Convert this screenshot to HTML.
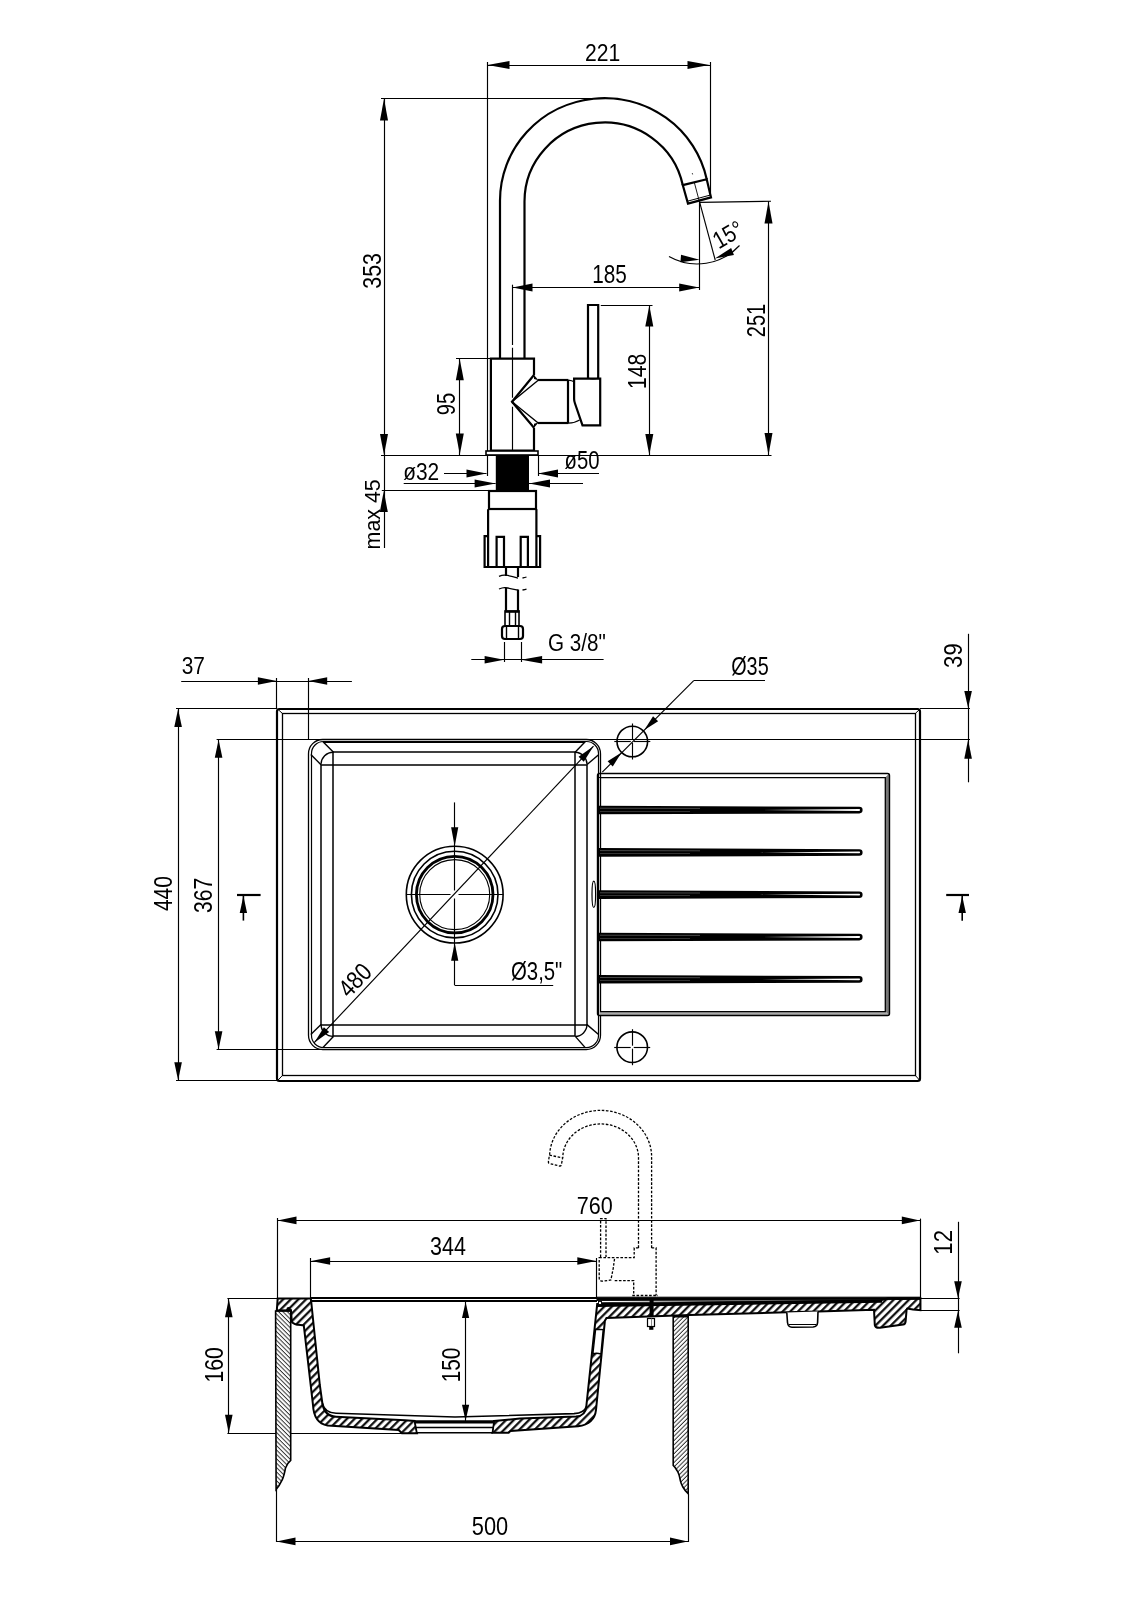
<!DOCTYPE html>
<html><head><meta charset="utf-8"><style>
html,body{margin:0;padding:0;background:#fff;}
svg{display:block;will-change:transform;}
text{font-family:"Liberation Sans",sans-serif;fill:#000;}
</style></head><body>
<svg width="1131" height="1600" viewBox="0 0 1131 1600">
<rect width="1131" height="1600" fill="#fff"/>
<defs>
<pattern id="hBold" patternUnits="userSpaceOnUse" width="5.4" height="10" patternTransform="rotate(45)">
<rect x="0" y="0" width="5.4" height="10" fill="#fff"/><line x1="1.2" y1="-1" x2="1.2" y2="11" stroke="#000" stroke-width="2.1"/></pattern>
<pattern id="hThinB" patternUnits="userSpaceOnUse" width="3.1" height="10" patternTransform="rotate(-45)">
<rect x="0" y="0" width="3.1" height="10" fill="#fff"/><line x1="1" y1="-1" x2="1" y2="11" stroke="#000" stroke-width="0.8"/></pattern>
<pattern id="hThinF" patternUnits="userSpaceOnUse" width="3.1" height="10" patternTransform="rotate(45)">
<rect x="0" y="0" width="3.1" height="10" fill="#fff"/><line x1="1" y1="-1" x2="1" y2="11" stroke="#000" stroke-width="0.8"/></pattern>
</defs>
<g stroke="#000" fill="none" stroke-linecap="butt" stroke-linejoin="miter">
<g id="faucet">
<line x1="487.5" y1="62" x2="487.5" y2="476" stroke-width="1.15" />
<line x1="710.5" y1="62" x2="710.5" y2="193" stroke-width="1.15" />
<line x1="487" y1="65.5" x2="710" y2="65.5" stroke-width="1.15" />
<polygon points="487.5,65 509.5,61 509.5,69" fill="#000" stroke="none" stroke-width="0" />
<polygon points="709.5,65 687.5,69 687.5,61" fill="#000" stroke="none" stroke-width="0" />
<text transform="translate(584.95,61) scale(0.86,1)" font-size="24.57" stroke="#fff" stroke-width="0">221</text>
<line x1="381" y1="98.5" x2="605" y2="98.5" stroke-width="1.15" />
<line x1="384.5" y1="98" x2="384.5" y2="548" stroke-width="1.15" />
<polygon points="384,98.5 388,120.5 380,120.5" fill="#000" stroke="none" stroke-width="0" />
<polygon points="384,455 380,434 388,434" fill="#000" stroke="none" stroke-width="0" />
<text transform="translate(380.9,288.66) rotate(-90) scale(0.84,1)" font-size="25.43" stroke="#fff" stroke-width="0">353</text>
<line x1="381" y1="455.5" x2="771.5" y2="455.5" stroke-width="1.15" />
<path d="M500,359 L500,200.5 A104.5,102.3 0 0 1 706.72,179.23" stroke-width="2.2" fill="none" />
<path d="M524.5,359 L524.5,201.5 A80,79 0 0 1 682.75,185.07" stroke-width="2.2" fill="none" />
<path d="M682.75,185.07 L688,203.6 L711,197.4 L706.72,179.23 Z" stroke-width="2.2" fill="none" />
<line x1="687.5" y1="201.2" x2="710.5" y2="195" stroke-width="1" />
<line x1="694.3" y1="182.4" x2="699.6" y2="202.4" stroke-width="0.9" />
<line x1="692.3" y1="173.2" x2="692.6" y2="174.4" stroke-width="0.9" />
<line x1="699.7" y1="202.4" x2="771" y2="201.2" stroke-width="1.15" />
<line x1="699.5" y1="201.5" x2="699.5" y2="290" stroke-width="1.15" />
<line x1="699.7" y1="202.4" x2="715.2" y2="260" stroke-width="1.15" />
<path d="M669,256.5 A57.5,57.5 0 0 0 739.5,245.5" stroke-width="1.15" fill="none" />
<polygon points="699.7,259.8 680.48,262.26 681.01,254.68" fill="#000" stroke="none" stroke-width="0" />
<polygon points="714.9,258.5 731.15,247.95 733.96,255.01" fill="#000" stroke="none" stroke-width="0" />
<text transform="translate(728,234.4) rotate(-30) scale(0.84,1) translate(-18.52,8.5)" font-size="24.29" stroke="#fff" stroke-width="0">15°</text>
<line x1="512" y1="287.5" x2="699.7" y2="287.5" stroke-width="1.15" />
<polygon points="512.5,287.5 532.5,283.5 532.5,291.5" fill="#000" stroke="none" stroke-width="0" />
<polygon points="699.2,287.5 679.2,291.5 679.2,283.5" fill="#000" stroke="none" stroke-width="0" />
<text transform="translate(592.19,282.5) scale(0.83,1)" font-size="25" stroke="#fff" stroke-width="0">185</text>
<line x1="512.5" y1="284.7" x2="512.5" y2="345" stroke-width="1.15" />
<line x1="512.5" y1="347.7" x2="512.5" y2="455" stroke-width="1.15" stroke-dasharray="50,3,3,3"/>
<line x1="768.5" y1="201.2" x2="768.5" y2="455.5" stroke-width="1.15" />
<polygon points="768.5,201.5 772.5,223.5 764.5,223.5" fill="#000" stroke="none" stroke-width="0" />
<polygon points="768.5,455 764.5,433 772.5,433" fill="#000" stroke="none" stroke-width="0" />
<text transform="translate(765.2,337.2) rotate(-90) scale(0.8,1)" font-size="25" stroke="#fff" stroke-width="0">251</text>
<line x1="600.8" y1="305.5" x2="652.5" y2="305.5" stroke-width="1.15" />
<line x1="649.5" y1="305" x2="649.5" y2="455.5" stroke-width="1.15" />
<polygon points="649.3,305.5 653.3,326.5 645.3,326.5" fill="#000" stroke="none" stroke-width="0" />
<polygon points="649.3,455 645.3,434 653.3,434" fill="#000" stroke="none" stroke-width="0" />
<text transform="translate(646.3,388.99) rotate(-90) scale(0.81,1)" font-size="26.14" stroke="#fff" stroke-width="0">148</text>
<line x1="456" y1="358.5" x2="490.9" y2="358.5" stroke-width="1.15" />
<line x1="459.5" y1="358.8" x2="459.5" y2="455" stroke-width="1.15" />
<polygon points="459.8,359.3 463.8,380.3 455.8,380.3" fill="#000" stroke="none" stroke-width="0" />
<polygon points="459.8,454.5 455.8,433.5 463.8,433.5" fill="#000" stroke="none" stroke-width="0" />
<text transform="translate(455.4,415.31) rotate(-90) scale(0.79,1)" font-size="25.57" stroke="#fff" stroke-width="0">95</text>
<path d="M534,375 L534,358.6 L490.9,358.6 L490.9,450.6 L534,450.6 L534,427.8" stroke-width="2.2" fill="none" />
<rect x="486" y="451" width="52" height="4" rx="0" stroke-width="1.6" fill="#fff" />
<path d="M534,375 L512,401.7 L534,427.8" stroke-width="2.2" fill="none" />
<path d="M538.2,380.3 L512,401.7 L538.2,423" stroke-width="1.4" fill="none" />
<polygon points="534,375 538.5,380.2 534,379" fill="#000" stroke="none" stroke-width="0" />
<polygon points="534,427.8 538.5,422.6 534,423.8" fill="#000" stroke="none" stroke-width="0" />
<line x1="538" y1="380" x2="568.4" y2="380" stroke-width="2.2" />
<line x1="538" y1="423" x2="568.4" y2="423" stroke-width="2.2" />
<line x1="568" y1="380" x2="568" y2="423.4" stroke-width="2.2" />
<path d="M568.4,380.2 Q572,380.6 574,381.8" stroke-width="1.2" fill="none" />
<path d="M568.4,423.2 Q575,423 579.6,420" stroke-width="1.2" fill="none" />
<path d="M574.1,378.6 L600.2,378.6 L600.2,425.4 L582.5,425.4 L575,403.5 Q574.1,401 574.1,399 Z" stroke-width="2.2" fill="none" />
<path d="M588,378.6 L588,305 L598.2,305 L598.2,378.6" stroke-width="2.2" fill="none" />
<path d="M588,378 Q593,380 598.2,378" stroke-width="1.2" fill="none" />
<rect x="495.8" y="455.3" width="33.2" height="35.3" rx="0" stroke-width="0" fill="#000" />
<line x1="538.5" y1="455" x2="538.5" y2="476" stroke-width="1.15" />
<line x1="444" y1="473.5" x2="486.5" y2="473.5" stroke-width="1.15" />
<line x1="538" y1="473.5" x2="599" y2="473.5" stroke-width="1.15" />
<polygon points="486.5,473.5 466.5,477.5 466.5,469.5" fill="#000" stroke="none" stroke-width="0" />
<polygon points="538,473.5 558,469.5 558,477.5" fill="#000" stroke="none" stroke-width="0" />
<line x1="403.7" y1="483.5" x2="495.6" y2="483.5" stroke-width="1.15" />
<line x1="529" y1="483.5" x2="583" y2="483.5" stroke-width="1.15" />
<polygon points="495.6,483.4 474.6,487.4 474.6,479.4" fill="#000" stroke="none" stroke-width="0" />
<polygon points="529,483.4 550,479.4 550,487.4" fill="#000" stroke="none" stroke-width="0" />
<text transform="translate(403.18,480.2) scale(0.85,1)" font-size="24.57" stroke="#fff" stroke-width="0">ø32</text>
<text transform="translate(564.49,469) scale(0.79,1)" font-size="25.71" stroke="#fff" stroke-width="0">ø50</text>
<line x1="381.8" y1="490.5" x2="488" y2="490.5" stroke-width="1.15" />
<polygon points="383.8,491 387.8,512 379.8,512" fill="#000" stroke="none" stroke-width="0" />
<text transform="translate(379.5,549.39) rotate(-90) scale(0.99,1)" font-size="21.59" stroke="#fff" stroke-width="0">max 45</text>
<rect x="489" y="491" width="47" height="18" rx="0" stroke-width="2.2" fill="none" />
<path d="M488.1,509.2 L488.1,567 M536.4,509.2 L536.4,567" stroke-width="2.2" fill="none" />
<path d="M488.1,536.2 L484.6,536.2 L484.6,567 L540.1,567 L540.1,536.2 L536.4,536.2" stroke-width="2.2" fill="none" />
<path d="M496.6,567 L496.6,536.8 L504,536.8 L504,567" stroke-width="2.2" fill="none" />
<path d="M520.7,567 L520.7,536.8 L527.9,536.8 L527.9,567" stroke-width="2.2" fill="none" />
<line x1="506" y1="567" x2="506" y2="576" stroke-width="2.2" />
<line x1="518" y1="567" x2="518" y2="577" stroke-width="2.2" />
<path d="M499,576.3 Q503,574.6 505.8,575.2 Q511,576 518,578 M522.5,578 Q525,577.5 526.5,577" stroke-width="1.3" fill="none" />
<path d="M499,589 Q503,587.2 505.5,587.6 Q511,588.5 518,590.2 M522.5,590 Q525,589.6 526.5,589.2" stroke-width="1.3" fill="none" />
<line x1="506" y1="588" x2="506" y2="611" stroke-width="2.2" />
<line x1="518" y1="589.5" x2="518" y2="611" stroke-width="2.2" />
<rect x="505" y="611" width="14" height="15" rx="0" stroke-width="1.6" fill="none" />
<line x1="505" y1="611.6" x2="519.6" y2="611.6" stroke-width="2.4" />
<line x1="509.5" y1="612" x2="509.5" y2="626" stroke-width="1.4" />
<line x1="515.5" y1="612" x2="515.5" y2="626" stroke-width="1.4" />
<rect x="502" y="626" width="21" height="13" rx="3" stroke-width="2.2" fill="none" />
<line x1="506.5" y1="627" x2="506.5" y2="638.8" stroke-width="1.4" />
<line x1="518.5" y1="627" x2="518.5" y2="638.8" stroke-width="1.4" />
<line x1="504.5" y1="642" x2="504.5" y2="662" stroke-width="1.15" />
<line x1="521.5" y1="642" x2="521.5" y2="662" stroke-width="1.15" />
<line x1="471.3" y1="659.5" x2="603.6" y2="659.5" stroke-width="1.15" />
<polygon points="504.1,659.7 484.6,663.5 484.6,655.9" fill="#000" stroke="none" stroke-width="0" />
<polygon points="521.1,659.7 542.1,655.9 542.1,663.5" fill="#000" stroke="none" stroke-width="0" />
<text transform="translate(548.07,650.5) scale(0.88,1)" font-size="23.45" stroke="#fff" stroke-width="0">G 3/8&quot;</text>
</g>
<g id="top">
<line x1="181.2" y1="681.5" x2="351.9" y2="681.5" stroke-width="1.15" />
<line x1="276.5" y1="678" x2="276.5" y2="709" stroke-width="1.15" />
<line x1="308.5" y1="678" x2="308.5" y2="740" stroke-width="1.15" />
<polygon points="276.9,681 257.9,684.8 257.9,677.2" fill="#000" stroke="none" stroke-width="0" />
<polygon points="308.2,681 327.2,677.2 327.2,684.8" fill="#000" stroke="none" stroke-width="0" />
<text transform="translate(181.76,674.2) scale(0.85,1)" font-size="24.57" stroke="#fff" stroke-width="0">37</text>
<line x1="176" y1="708.5" x2="277" y2="708.5" stroke-width="1.15" />
<line x1="176" y1="1080.5" x2="277" y2="1080.5" stroke-width="1.15" />
<line x1="178.5" y1="708.5" x2="178.5" y2="1080.8" stroke-width="1.15" />
<polygon points="178.1,709 181.9,727 174.3,727" fill="#000" stroke="none" stroke-width="0" />
<polygon points="178.1,1080.3 174.3,1062.3 181.9,1062.3" fill="#000" stroke="none" stroke-width="0" />
<text transform="translate(171.7,911.12) rotate(-90) scale(0.84,1)" font-size="25" stroke="#fff" stroke-width="0">440</text>
<line x1="216.6" y1="739.5" x2="970" y2="739.5" stroke-width="1.15" />
<line x1="216.6" y1="1049.5" x2="322" y2="1049.5" stroke-width="1.15" />
<line x1="218.5" y1="739.2" x2="218.5" y2="1049.8" stroke-width="1.15" />
<polygon points="218.6,739.7 222.4,757.7 214.8,757.7" fill="#000" stroke="none" stroke-width="0" />
<polygon points="218.6,1049.3 214.8,1031.3 222.4,1031.3" fill="#000" stroke="none" stroke-width="0" />
<text transform="translate(212.3,913.04) rotate(-90) scale(0.82,1)" font-size="25.71" stroke="#fff" stroke-width="0">367</text>
<line x1="920" y1="708.5" x2="970" y2="708.5" stroke-width="1.15" />
<line x1="968.5" y1="633.8" x2="968.5" y2="782.3" stroke-width="1.15" />
<polygon points="968.1,708 964.3,691 971.9,691" fill="#000" stroke="none" stroke-width="0" />
<polygon points="968.1,739.7 971.9,758.7 964.3,758.7" fill="#000" stroke="none" stroke-width="0" />
<text transform="translate(961.7,667.88) rotate(-90) scale(0.86,1)" font-size="25.71" stroke="#fff" stroke-width="0">39</text>
<rect x="277" y="709" width="643" height="372" rx="2.5" stroke-width="2.2" fill="none" />
<rect x="282.5" y="713.5" width="633" height="362" rx="0" stroke-width="1.3" fill="none" />
<line x1="277.6" y1="709" x2="282" y2="713.1" stroke-width="1" />
<line x1="920" y1="709" x2="915.7" y2="713.1" stroke-width="1" />
<line x1="277.6" y1="1080.6" x2="282" y2="1075.9" stroke-width="1" />
<line x1="920" y1="1080.6" x2="915.7" y2="1075.9" stroke-width="1" />
<rect x="308.5" y="739.5" width="292" height="310" rx="14.2" stroke-width="1.3" fill="none" />
<rect x="311.5" y="741.5" width="287" height="306" rx="12" stroke-width="1.2" fill="none" />
<line x1="324" y1="742" x2="585" y2="742" stroke-width="2" />
<rect x="333" y="752" width="242" height="284" rx="0" stroke-width="1.5" fill="none" />
<rect x="321" y="765" width="266" height="260" rx="0" stroke-width="1.5" fill="none" />
<path d="M321,764.6 A12.3,12.3 0 0 1 333.4,752.3" stroke-width="1.4" fill="none" />
<line x1="323" y1="741.7" x2="333.5" y2="752.3" stroke-width="1.4" />
<line x1="310.8" y1="754.6" x2="321" y2="764.7" stroke-width="1.4" />
<path d="M575.2,752.3 A12.3,12.3 0 0 1 587,764.6" stroke-width="1.4" fill="none" />
<line x1="585.4" y1="741.5" x2="575.1" y2="752.3" stroke-width="1.4" />
<line x1="598.6" y1="754.7" x2="587.1" y2="764.5" stroke-width="1.4" />
<path d="M333.4,1036.4 A12.3,12.3 0 0 1 321,1024.6" stroke-width="1.4" fill="none" />
<line x1="310.8" y1="1034.5" x2="321" y2="1024.6" stroke-width="1.4" />
<line x1="323" y1="1047.6" x2="333.4" y2="1036.5" stroke-width="1.4" />
<path d="M587,1024.6 A12,12 0 0 1 575.2,1036.4" stroke-width="1.4" fill="none" />
<line x1="598.3" y1="1034.2" x2="587" y2="1024.6" stroke-width="1.4" />
<line x1="585.2" y1="1047.6" x2="575.3" y2="1036.4" stroke-width="1.4" />
<circle cx="454.7" cy="894.6" r="48.4" stroke-width="1.6" fill="none" />
<circle cx="454.7" cy="894.6" r="43.3" stroke-width="1.6" fill="none" />
<circle cx="454.7" cy="894.6" r="38.3" stroke-width="2.8" fill="none" />
<circle cx="454.7" cy="894.6" r="35" stroke-width="1.1" fill="none" />
<line x1="406.7" y1="894.5" x2="450.5" y2="894.5" stroke-width="1.15" />
<line x1="458.5" y1="894.5" x2="503.2" y2="894.5" stroke-width="1.15" />
<line x1="454.5" y1="802.4" x2="454.5" y2="890.5" stroke-width="1.15" />
<line x1="454.5" y1="898.5" x2="454.5" y2="985.2" stroke-width="1.15" />
<polygon points="454.7,846.3 451.1,827.3 458.3,827.3" fill="#000" stroke="none" stroke-width="0" />
<polygon points="454.7,942.8 458.3,960.8 451.1,960.8" fill="#000" stroke="none" stroke-width="0" />
<line x1="454.7" y1="985.5" x2="553.2" y2="985.5" stroke-width="1.15" />
<text transform="translate(510.99,980.3) scale(0.81,1)" font-size="25.14" stroke="#fff" stroke-width="0">Ø3,5&quot;</text>
<line x1="314.2" y1="1042.7" x2="593.5" y2="746.2" stroke-width="1.15" />
<polygon points="593.5,746.2 583.78,761.77 578.54,756.83" fill="#000" stroke="none" stroke-width="0" />
<polygon points="314.2,1042.7 323.92,1027.13 329.16,1032.07" fill="#000" stroke="none" stroke-width="0" />
<text transform="translate(354.6,980.1) rotate(-46.7) scale(0.85,1) translate(-20.62,8.75)" font-size="25" stroke="#fff" stroke-width="0">480</text>
<circle cx="632.3" cy="741.5" r="15.3" stroke-width="1.6" fill="none" />
<line x1="614.3" y1="741.5" x2="630.8" y2="741.5" stroke-width="1.15" />
<line x1="633.8" y1="741.5" x2="650.3" y2="741.5" stroke-width="1.15" />
<line x1="632.5" y1="723.5" x2="632.5" y2="740" stroke-width="1.15" />
<line x1="632.5" y1="743" x2="632.5" y2="759.5" stroke-width="1.15" />
<circle cx="632.2" cy="1047.2" r="15.3" stroke-width="1.6" fill="none" />
<line x1="614.2" y1="1047.5" x2="630.7" y2="1047.5" stroke-width="1.15" />
<line x1="633.7" y1="1047.5" x2="650.2" y2="1047.5" stroke-width="1.15" />
<line x1="632.5" y1="1029.2" x2="632.5" y2="1045.7" stroke-width="1.15" />
<line x1="632.5" y1="1048.7" x2="632.5" y2="1065.2" stroke-width="1.15" />
<line x1="693.7" y1="680.5" x2="765" y2="680.5" stroke-width="1.15" />
<line x1="693.7" y1="680.6" x2="602.3" y2="772.2" stroke-width="1.15" />
<polygon points="644.3,730.1 653.07,716.24 658.16,721.33" fill="#000" stroke="none" stroke-width="0" />
<polygon points="621.5,752.6 612.73,766.46 607.64,761.37" fill="#000" stroke="none" stroke-width="0" />
<text transform="translate(731.2,675.3) scale(0.76,1)" font-size="26.11" stroke="#fff" stroke-width="0">Ø35</text>
<polygon points="885.3,777.6 889.3,773.2 889.3,1015.4 885.3,1011.6" fill="#777" stroke="none" stroke-width="0" />
<polygon points="600,1015.4 889,1015.4 885.3,1011.6 600,1011.6" fill="#aaa" stroke="none" stroke-width="0" />
<rect x="597.5" y="773.5" width="292" height="242" rx="2" stroke-width="1.4" fill="none" />
<path d="M600,777.6 L885.3,777.6 L885.3,1011.6 L600,1011.6" stroke-width="1.3" fill="none" />
<line x1="597.3" y1="777.5" x2="600" y2="777.5" stroke-width="1" />
<path d="M597.8,805.7 L859.3,806.8 A3.3,3.3 0 0 1 859.3,813.4 L597.8,814.3 Z" stroke-width="0" fill="#000" stroke="none"/>
<path d="M760,810 L859.3,809.1 A0.95,0.95 0 0 1 859.3,810.95 Z" stroke-width="0" fill="#fff" stroke="none"/>
<line x1="600" y1="808.2" x2="700" y2="808.4" stroke-width="0.7" stroke="#666"/>
<line x1="600" y1="811.5" x2="690" y2="811.5" stroke-width="0.6" stroke="#555"/>
<path d="M597.8,848.1 L859.3,849.2 A3.3,3.3 0 0 1 859.3,855.8 L597.8,856.7 Z" stroke-width="0" fill="#000" stroke="none"/>
<path d="M760,852.4 L859.3,851.5 A0.95,0.95 0 0 1 859.3,853.35 Z" stroke-width="0" fill="#fff" stroke="none"/>
<line x1="600" y1="850.6" x2="700" y2="850.8" stroke-width="0.7" stroke="#666"/>
<line x1="600" y1="853.5" x2="690" y2="853.5" stroke-width="0.6" stroke="#555"/>
<path d="M597.8,890.3 L859.3,891.4 A3.3,3.3 0 0 1 859.3,898 L597.8,898.9 Z" stroke-width="0" fill="#000" stroke="none"/>
<path d="M760,894.6 L859.3,893.7 A0.95,0.95 0 0 1 859.3,895.55 Z" stroke-width="0" fill="#fff" stroke="none"/>
<line x1="600" y1="892.8" x2="700" y2="893" stroke-width="0.7" stroke="#666"/>
<line x1="600" y1="895.5" x2="690" y2="895.5" stroke-width="0.6" stroke="#555"/>
<path d="M597.8,932.7 L859.3,933.8 A3.3,3.3 0 0 1 859.3,940.4 L597.8,941.3 Z" stroke-width="0" fill="#000" stroke="none"/>
<path d="M760,937 L859.3,936.1 A0.95,0.95 0 0 1 859.3,937.95 Z" stroke-width="0" fill="#fff" stroke="none"/>
<line x1="600" y1="935.2" x2="700" y2="935.4" stroke-width="0.7" stroke="#666"/>
<line x1="600" y1="938.5" x2="690" y2="938.5" stroke-width="0.6" stroke="#555"/>
<path d="M597.8,975 L859.3,976.1 A3.3,3.3 0 0 1 859.3,982.7 L597.8,983.6 Z" stroke-width="0" fill="#000" stroke="none"/>
<path d="M760,979.3 L859.3,978.4 A0.95,0.95 0 0 1 859.3,980.25 Z" stroke-width="0" fill="#fff" stroke="none"/>
<line x1="600" y1="977.5" x2="700" y2="977.7" stroke-width="0.7" stroke="#666"/>
<line x1="600" y1="980.5" x2="690" y2="980.5" stroke-width="0.6" stroke="#555"/>
<ellipse cx="593.8" cy="894.3" rx="1.8" ry="13.2" stroke-width="1.2" fill="#fff"/>
<line x1="237" y1="895" x2="260.6" y2="895" stroke-width="2.2" />
<line x1="243.4" y1="896" x2="243.4" y2="920.6" stroke-width="1.6" />
<polygon points="243.4,896 247.1,913 239.7,913" fill="#000" stroke="none" stroke-width="0" />
<line x1="946.2" y1="895" x2="969" y2="895" stroke-width="2.2" />
<line x1="962.2" y1="896" x2="962.2" y2="920.7" stroke-width="1.6" />
<polygon points="962.2,896 965.9,913 958.5,913" fill="#000" stroke="none" stroke-width="0" />
</g>
<g id="section">
<path d="M651.6,1247.9 L651.6,1158 A50.6,46 0 0 0 549.6,1155.5" stroke-width="1.3" fill="none" stroke-dasharray="2.6,1.6"/>
<path d="M638.5,1247.9 L638.5,1158 A37.6,33.6 0 0 0 562.8,1157.5" stroke-width="1.3" fill="none" stroke-dasharray="2.6,1.6"/>
<path d="M549.4,1155.2 L562.7,1157.8 L561.3,1165 Q560.8,1166.2 559.5,1166 L549.6,1163.6 Q548.2,1163.2 548.4,1161.8 Z" stroke-width="1.3" fill="none" stroke-dasharray="2.6,1.6"/>
<path d="M638.5,1247.9 L634.2,1247.9 L634.2,1257.6 L614.7,1257.6 M614.7,1280.6 L633.7,1280.6 L633.7,1295.5 M651.6,1247.9 L656.1,1247.9 L656.1,1295.5" stroke-width="1.3" fill="none" stroke-dasharray="2.6,1.6"/>
<path d="M632.3,1295.5 L658,1295.5" stroke-width="1.4" fill="none" stroke-dasharray="2.6,1.6"/>
<path d="M600.6,1257 L600.6,1218.7 L606,1218.7 L606,1257" stroke-width="1.3" fill="none" stroke-dasharray="2.6,1.6"/>
<path d="M599.2,1257.6 L614.7,1257.6 L613.3,1267.8 L610.9,1280 L603,1281.2 Q599.2,1281.2 599.2,1278 Z" stroke-width="1.3" fill="none" stroke-dasharray="2.6,1.6"/>
<line x1="277.5" y1="1218" x2="277.5" y2="1311" stroke-width="1.15" />
<line x1="920.5" y1="1218.6" x2="920.5" y2="1310.3" stroke-width="1.15" />
<line x1="277" y1="1220.5" x2="920.3" y2="1220.5" stroke-width="1.15" />
<polygon points="277.5,1220.4 296.5,1216.6 296.5,1224.2" fill="#000" stroke="none" stroke-width="0" />
<polygon points="919.8,1220.4 901.8,1224.2 901.8,1216.6" fill="#000" stroke="none" stroke-width="0" />
<text transform="translate(576.72,1213.8) scale(0.89,1)" font-size="24.29" stroke="#fff" stroke-width="0">760</text>
<line x1="310.5" y1="1258" x2="310.5" y2="1298.6" stroke-width="1.15" />
<line x1="596.5" y1="1258" x2="596.5" y2="1299" stroke-width="1.15" />
<line x1="310.6" y1="1261.5" x2="596.8" y2="1261.5" stroke-width="1.15" />
<polygon points="311.1,1261 330.1,1257.2 330.1,1264.8" fill="#000" stroke="none" stroke-width="0" />
<polygon points="596.3,1261 577.3,1264.8 577.3,1257.2" fill="#000" stroke="none" stroke-width="0" />
<text transform="translate(430.04,1254.8) scale(0.85,1)" font-size="25.29" stroke="#fff" stroke-width="0">344</text>
<line x1="920.3" y1="1298.5" x2="959.6" y2="1298.5" stroke-width="1.15" />
<line x1="920.3" y1="1310.5" x2="959.6" y2="1310.5" stroke-width="1.15" />
<line x1="958.5" y1="1221.8" x2="958.5" y2="1353.3" stroke-width="1.15" />
<polygon points="958,1298.2 954.2,1281.2 961.8,1281.2" fill="#000" stroke="none" stroke-width="0" />
<polygon points="958,1310.8 961.8,1327.8 954.2,1327.8" fill="#000" stroke="none" stroke-width="0" />
<text transform="translate(951.6,1254.65) rotate(-90) scale(0.86,1)" font-size="25.71" stroke="#fff" stroke-width="0">12</text>
<line x1="227.4" y1="1298.5" x2="277.7" y2="1298.5" stroke-width="1.15" />
<line x1="227.4" y1="1433.5" x2="415.6" y2="1433.5" stroke-width="1.15" />
<line x1="228.5" y1="1298.4" x2="228.5" y2="1433.6" stroke-width="1.15" />
<polygon points="228.8,1298.9 232.6,1317.2 225,1317.2" fill="#000" stroke="none" stroke-width="0" />
<polygon points="228.8,1433.1 225,1414.8 232.6,1414.8" fill="#000" stroke="none" stroke-width="0" />
<text transform="translate(223.2,1382.6) rotate(-90) scale(0.8,1)" font-size="26.57" stroke="#fff" stroke-width="0">160</text>
<line x1="465.5" y1="1301.5" x2="465.5" y2="1421" stroke-width="1.15" />
<polygon points="465.6,1302 469.2,1318 462,1318" fill="#000" stroke="none" stroke-width="0" />
<polygon points="465.6,1420.8 462,1404.8 469.2,1404.8" fill="#000" stroke="none" stroke-width="0" />
<text transform="translate(459.7,1382.27) rotate(-90) scale(0.81,1)" font-size="25.71" stroke="#fff" stroke-width="0">150</text>
<line x1="276.5" y1="1489" x2="276.5" y2="1542" stroke-width="1.15" />
<line x1="688.5" y1="1494" x2="688.5" y2="1542" stroke-width="1.15" />
<line x1="276" y1="1541.5" x2="688.2" y2="1541.5" stroke-width="1.15" />
<polygon points="276.5,1541.4 295.5,1537.6 295.5,1545.2" fill="#000" stroke="none" stroke-width="0" />
<polygon points="687.7,1541.4 670,1545.2 670,1537.6" fill="#000" stroke="none" stroke-width="0" />
<text transform="translate(471.83,1535.4) scale(0.84,1)" font-size="26" stroke="#fff" stroke-width="0">500</text>
<path d="M275.6,1311 L290.7,1311 L290.7,1460.4 Q287,1463.5 285.5,1468 Q284,1476 282.3,1479.6 Q279.5,1485.5 276.1,1489.5 Z" stroke-width="1.6" fill="url(#hThinB)" />
<path d="M673.2,1316.8 L688.2,1316.8 L688.2,1493.8 Q684.5,1490 682.9,1487 Q681,1483.5 680.4,1480.8 Q679,1473 677,1470.5 Q675,1467 673.2,1465.4 Z" stroke-width="1.6" fill="url(#hThinF)" />
<line x1="310.8" y1="1298" x2="597" y2="1298" stroke-width="1.9" />
<line x1="310.8" y1="1301" x2="597" y2="1301" stroke-width="1.9" />
<path d="M277.7,1298.6 L310.8,1298.6 L311.2,1301.5 L319.8,1385 L322.3,1403 Q324.2,1416 336,1416.8 L405,1420.2 L414.7,1421 L417,1433.3 L401.9,1433.3 L398.7,1430 L327.6,1425.6 Q313.8,1423 313,1405 L303.8,1325.5 Q300.5,1324.6 297.1,1324.7 Q292.5,1323.5 291.8,1321.6 L291,1310.3 L276.8,1310.5 Z" stroke-width="2" fill="url(#hBold)" />
<circle cx="288.6" cy="1309.2" r="2.2" stroke-width="0" fill="#000" stroke="none"/>
<path d="M322.3,1403 Q324.5,1413 336,1413.2 L455,1417 L574,1413.6 Q584.6,1413 586.3,1406.5" stroke-width="1.6" fill="none" />
<path d="M494,1421 L520,1418.6 L576,1416.6 Q585.6,1416 586.3,1406.5 L597.2,1304 L880,1300.5 L888,1298.2 L920.4,1298.2 L920.4,1310.2 L913,1309.6 L907.3,1308.6 L906.6,1309.6 L905.6,1321.5 Q905.2,1324.3 903.2,1324.5 L880,1327.8 Q875.3,1328.2 874.8,1325 L874,1309.7 L818,1311.4 L786.5,1312.3 L690,1315 L606.5,1318 L604.9,1320.8 L596,1410 Q594.5,1424 578,1426.3 L510.6,1430.9 L508.7,1432.8 L492.3,1432.8 Z" stroke-width="2" fill="url(#hBold)" />
<polygon points="597,1297.2 920.4,1297.2 920.4,1299.3 888,1299.6 597,1300.4" fill="#000"/>
<line x1="597.5" y1="1305.6" x2="882" y2="1301.2" stroke-width="3" />
<line x1="601" y1="1302.6" x2="840" y2="1300.6" stroke-width="0.8" />
<rect x="598.5" y="1301.5" width="3" height="3" rx="0" stroke-width="0.9" fill="#fff" />
<path d="M595.6,1329.3 L603.2,1329.6 L600.9,1354 Q597,1352.6 592.9,1353.7 Z" stroke-width="1.4" fill="#fff" />
<path d="M786.8,1312.6 L787.5,1322.5 Q788,1327 792,1327.2 L813,1327 Q817.3,1326.8 817.6,1322.5 L818,1311.6" stroke-width="1.6" fill="#fff" />
<line x1="789" y1="1324.5" x2="816" y2="1324.5" stroke-width="1" />
<path d="M414.7,1421 L494,1421 L492.3,1432.8 L417,1432.8 Z" stroke-width="1.4" fill="#fff" />
<line x1="415" y1="1422.2" x2="493.6" y2="1422.2" stroke-width="2.6" />
<line x1="416" y1="1427.5" x2="493" y2="1427.5" stroke-width="1.3" />
<rect x="649.6" y="1298" width="4" height="18.5" rx="0" stroke-width="0" fill="#000" />
<rect x="647.5" y="1318.5" width="7" height="8" rx="0" stroke-width="1.2" fill="#fff" />
<line x1="651.5" y1="1318.6" x2="651.5" y2="1326" stroke-width="1" stroke="#888"/>
<rect x="649.2" y="1326" width="4.2" height="3.8" rx="0" stroke-width="0" fill="#000" />
</g>
</g>
</svg>
</body></html>
